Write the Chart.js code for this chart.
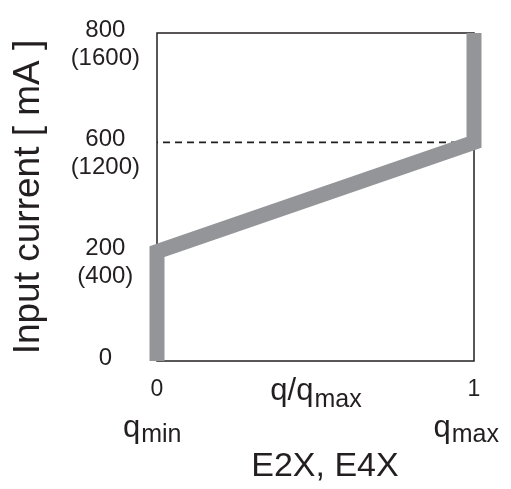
<!DOCTYPE html>
<html>
<head>
<meta charset="utf-8">
<script src="https://cdn.jsdelivr.net/npm/chart.js@4/dist/chart.umd.min.js"></script>
<style>
  html, body { margin: 0; padding: 0; background: #fff; }
</style>
</head>
<body>
<canvas id="chart" width="511" height="489"></canvas>
<script>
// tick values on the y axis (mA), printed with equal spacing between them
const yTickValues = [0, 200, 600, 800];
const yTickLabels = [['0'], ['', '200', '(400)'], ['', '600', '(1200)'], ['', '800', '(1600)']];
const xTickValues = [0, 1];
const xTickLabels = ['0', '1'];

// input current vs q/qmax
const curveX = [0, 0, 1, 1];
const curveY = [0, 200, 600, 800];

// dashed reference level
const refX = [0, 1];
const refY = [600, 600];

const ink = '#231f20';
const FONT = '"Liberation Sans", Arial, Helvetica, sans-serif';

// piecewise map from mA to the evenly spaced tick index
function toAxis(v) {
    for (let i = 0; i < yTickValues.length - 1; i++) {
        const a = yTickValues[i], b = yTickValues[i + 1];
        if (v <= b) return i + (v - a) / (b - a);
    }
    return yTickValues.length - 1;
}

function points(xs, ys) {
    return xs.map((x, i) => ({ x: x, y: toAxis(ys[i]) }));
}

const boxPlugin = {
    id: 'box',
    beforeDatasetsDraw(chart) {
        const { ctx, chartArea: a } = chart;
        ctx.save();
        ctx.strokeStyle = ink;
        ctx.lineWidth = 1.5;
        ctx.strokeRect(a.left, a.top, a.right - a.left, a.bottom - a.top);
        ctx.restore();
    }
};

function drawSub(c, main, sub, x, y, align, drop) {
    c.font = '31px ' + FONT;
    const w1 = c.measureText(main).width;
    c.font = '25px ' + FONT;
    const w2 = c.measureText(sub).width;
    let left = x;
    if (align === 'center') left = x - (w1 + w2) / 2;
    if (align === 'right') left = x - w1 - w2;
    c.textAlign = 'left';
    c.textBaseline = 'alphabetic';
    c.fillStyle = ink;
    c.font = '31px ' + FONT;
    c.fillText(main, left, y);
    c.font = '25px ' + FONT;
    c.fillText(sub, left + w1 + 1, y + drop);
}

const labelPlugin = {
    id: 'qlabels',
    afterDraw(chart) {
        const { ctx, chartArea: a, scales } = chart;
        const x0 = scales.x.getPixelForValue(0);
        const x1 = scales.x.getPixelForValue(1);
        ctx.save();
        drawSub(ctx, 'q/q', 'max', (a.left + a.right) / 2, a.bottom + 39, 'center', 7);
        drawSub(ctx, 'q', 'min', x0 - 34, a.bottom + 76, 'left', 5);
        drawSub(ctx, 'q', 'max', x1 + 24, a.bottom + 76, 'right', 5);
        ctx.restore();
    }
};

const ctx = document.getElementById('chart').getContext('2d');
new Chart(ctx, {
    type: 'line',
    data: {
        datasets: [
            {
                label: 'curve',
                data: points(curveX, curveY),
                borderColor: '#939598',
                borderWidth: 15,
                borderCapStyle: 'butt',
                borderJoinStyle: 'miter',
                pointRadius: 0,
                tension: 0,
                fill: false,
                clip: false,
                order: 1
            },
            {
                label: 'ref',
                data: points(refX, refY),
                borderColor: ink,
                borderWidth: 1.6,
                borderDash: [7, 5],
                borderDashOffset: -6,
                pointRadius: 0,
                fill: false,
                order: 2
            }
        ]
    },
    options: {
        responsive: false,
        animation: false,
        layout: { padding: { top: 33, right: 37, bottom: 0, left: 0 } },
        plugins: { legend: { display: false }, tooltip: { enabled: false } },
        scales: {
            x: {
                type: 'linear',
                min: 0,
                max: 1,
                afterBuildTicks: s => { s.ticks = xTickValues.map(v => ({ value: v })); },
                afterFit: s => { s.height = 128; },
                grid: { display: false, drawTicks: false },
                border: { display: false },
                ticks: {
                    color: ink,
                    font: { family: FONT, size: 23 },
                    padding: 15,
                    maxRotation: 0,
                    callback: (v, i) => xTickLabels[i]
                },
                title: {
                    display: true,
                    text: '\u00a0\u00a0E2X, E4X',
                    color: ink,
                    font: { family: FONT, size: 34 },
                    padding: { top: 0, bottom: 2 }
                }
            },
            y: {
                type: 'linear',
                min: 0,
                max: 3,
                afterBuildTicks: s => { s.ticks = yTickValues.map((v, i) => ({ value: i })); },
                afterFit: s => { s.width = 157; s.paddingTop = 0; s.paddingBottom = 0; },
                grid: { display: false, drawTicks: false },
                border: { display: false },
                ticks: {
                    color: ink,
                    font: { family: FONT, size: 24, lineHeight: 1.17 },
                    crossAlign: 'center',
                    padding: 17,
                    labelOffset: -3,
                    callback: v => yTickLabels[Math.round(v)]
                },
                title: {
                    display: true,
                    text: 'Input current [ mA ]',
                    color: ink,
                    font: { family: FONT, size: 37 },
                    padding: { top: 7, bottom: 0 }
                }
            }
        }
    },
    plugins: [boxPlugin, labelPlugin]
});
</script>
</body>
</html>
